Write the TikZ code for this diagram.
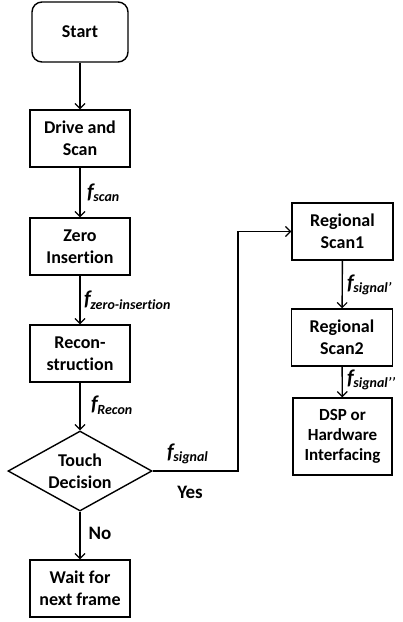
\documentclass[tikz,border=0pt]{standalone}
\usepackage{fontspec}
\setmainfont[Ligatures=NoCommon]{Carlito}
\usetikzlibrary{shapes.geometric,arrows.meta}
\newcommand\fsub[1]{{\fontsize{21}{22}\selectfont\bfseries\itshape f\kern-0.5pt\raisebox{-3.5pt}{\fontsize{14}{14}\selectfont #1}}}
\tikzset{
  box/.style={draw, line width=1.4pt, minimum width=100pt, minimum height=57pt, inner sep=1pt, align=center, font=\fontsize{18}{22}\selectfont\bfseries},
  flow/.style={draw, line width=1.4pt, -{Straight Barb[length=5pt,width=10pt,line width=1.2pt]}},
  lbl/.style={anchor=west, inner sep=0pt},
  yn/.style={inner sep=0pt, font=\fontsize{19}{20}\selectfont\bfseries}
}
\begin{document}
\begin{tikzpicture}[x=1pt,y=-1pt]
\useasboundingbox[fill=white] (0,0) rectangle (403,622);
\node[box, rounded corners=10pt, minimum width=96pt, minimum height=60pt] (start) at (80,32) {Start};
\node[box] (drive) at (80,138.5) {Drive and\\Scan};
\node[box] (zero) at (80,246.5) {Zero\\Insertion};
\node[box] (recon) at (80,353.5) {Recon-\\struction};
\node[box, shape=diamond, aspect=1.8, inner sep=0pt, minimum width=144pt, minimum height=80pt] (dec) at (80,471) {Touch\\Decision};
\node[box] (wait) at (80,588.5) {Wait for\\next frame};
\node[box, minimum width=101pt] (rs1) at (342.5,231.5) {Regional\\Scan1};
\node[box, minimum width=101pt] (rs2) at (342,337.5) {Regional\\Scan2};
\node[box, minimum width=99pt, minimum height=77pt, font=\fontsize{17}{20}\selectfont\bfseries] (dsp) at (342.5,436.5) {DSP or\\Hardware\\Interfacing};
\coordinate (c1) at (238,471);
\coordinate (c2) at (238,231.5);
\draw[flow] (start) -- (drive);
\draw[flow] (drive) -- (zero);
\draw[flow] (zero) -- (recon);
\draw[flow] (recon) -- (dec);
\draw[flow] (dec) -- (wait);
\draw[flow] (dec.east) -- (c1) -- (c2) -- (rs1.west);
\draw[flow] (rs1) -- (rs2);
\draw[flow] (rs2) -- (dsp);
\node[lbl] (l1) at (87,193) {\fsub{scan}};
\node[lbl] (l2) at (84,300) {\fsub{zero-insertion}};
\node[lbl] (l3) at (91,405) {\fsub{Recon}};
\node[lbl] (l4) at (167,454) {\fsub{signal}};
\node[yn] (yes) at (190,492) {Yes};
\node[yn] (no) at (100,533) {No};
\node[lbl] (l5) at (347,285) {\fsub{signal’}};
\node[lbl] (l6) at (347,380) {\fsub{signal’’}};
\end{tikzpicture}
\end{document}
